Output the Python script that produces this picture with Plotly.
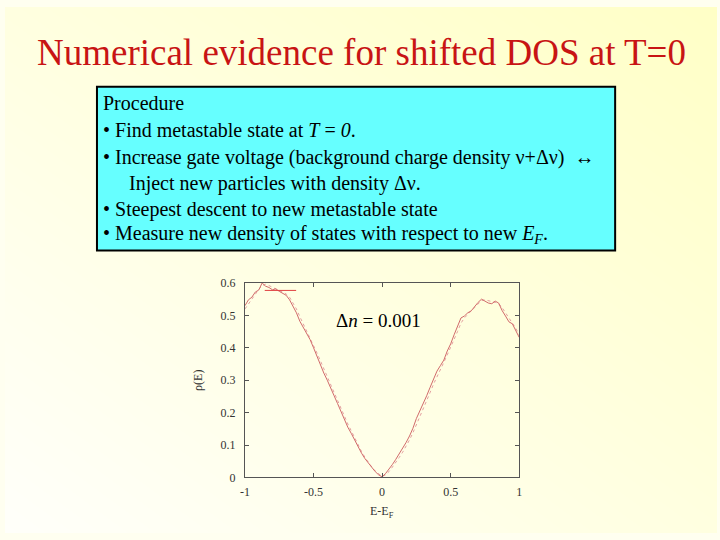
"""Densitat d'estats desplaçada a T=0: diapositiva amb quadre de procediment i gràfic rho(E)."""

import plotly.graph_objects as go

# Eix d'energia E-E_F (mostreig cada 0.025)
energy = [
    -1.000, -0.975, -0.950, -0.925, -0.900, -0.875, -0.850, -0.825, -0.800, -0.775,
    -0.750, -0.725, -0.700, -0.675, -0.650, -0.625, -0.600, -0.575, -0.550, -0.525,
    -0.500, -0.475, -0.450, -0.425, -0.400, -0.375, -0.350, -0.325, -0.300, -0.275,
    -0.250, -0.225, -0.200, -0.175, -0.150, -0.125, -0.100, -0.075, -0.050, -0.025,
    0.000, 0.025, 0.050, 0.075, 0.100, 0.125, 0.150, 0.175, 0.200, 0.225,
    0.250, 0.275, 0.300, 0.325, 0.350, 0.375, 0.400, 0.425, 0.450, 0.475,
    0.500, 0.525, 0.550, 0.575, 0.600, 0.625, 0.650, 0.675, 0.700, 0.725,
    0.750, 0.775, 0.800, 0.825, 0.850, 0.875, 0.900, 0.925, 0.950, 0.975,
    1.000,
]

# DOS després d'injectar partícules (línia contínua)
rho_new = [
    0.530, 0.548, 0.556, 0.572, 0.578, 0.600, 0.590, 0.586, 0.579, 0.582,
    0.574, 0.568, 0.562, 0.548, 0.530, 0.508, 0.482, 0.462, 0.442, 0.425,
    0.400, 0.372, 0.350, 0.322, 0.300, 0.278, 0.252, 0.228, 0.202, 0.180,
    0.155, 0.136, 0.115, 0.094, 0.075, 0.058, 0.044, 0.030, 0.018, 0.008,
    0.002, 0.012, 0.025, 0.040, 0.056, 0.072, 0.088, 0.108, 0.128, 0.152,
    0.182, 0.205, 0.226, 0.252, 0.278, 0.305, 0.328, 0.345, 0.362, 0.390,
    0.412, 0.440, 0.466, 0.492, 0.498, 0.508, 0.514, 0.528, 0.540, 0.550,
    0.544, 0.538, 0.536, 0.544, 0.538, 0.515, 0.498, 0.480, 0.474, 0.452,
    0.432,
]

# DOS de referència (línia puntejada)
rho_ref = [
    0.520, 0.535, 0.552, 0.566, 0.580, 0.592, 0.596, 0.592, 0.586, 0.580,
    0.576, 0.572, 0.566, 0.556, 0.540, 0.520, 0.496, 0.474, 0.452, 0.432,
    0.410, 0.384, 0.360, 0.334, 0.310, 0.286, 0.262, 0.238, 0.212, 0.188,
    0.165, 0.144, 0.122, 0.100, 0.080, 0.062, 0.046, 0.032, 0.020, 0.010,
    0.003, 0.008, 0.018, 0.032, 0.046, 0.062, 0.078, 0.096, 0.116, 0.138,
    0.162, 0.188, 0.212, 0.238, 0.262, 0.288, 0.312, 0.336, 0.355, 0.378,
    0.400, 0.426, 0.450, 0.476, 0.492, 0.504, 0.514, 0.524, 0.536, 0.546,
    0.548, 0.546, 0.542, 0.540, 0.536, 0.524, 0.508, 0.490, 0.476, 0.460,
    0.440,
]

# Mostra de la llegenda de gnuplot (segment horitzontal)
key_x = [-0.856, -0.627]
key_y = [0.577, 0.577]

x_ticks = [-1, -0.5, 0, 0.5, 1]
x_tick_labels = ["-1", "-0.5", "0", "0.5", "1"]
y_ticks = [0, 0.1, 0.2, 0.3, 0.4, 0.5, 0.6]
y_tick_labels = ["0", "0.1", "0.2", "0.3", "0.4", "0.5", "0.6"]

procedure_lines = [
    "Procedure",
    "• Find metastable state at <i>T</i> = <i>0</i>.",
    "• Increase gate voltage (background charge density ν+Δν)  ↔",
    "Inject new particles with density Δν.",
    "• Steepest descent to new metastable state",
    "• Measure new density of states with respect to new <i>E<sub>F</sub></i>.",
]
line_px_y = [99, 126, 154, 181, 208, 234]
line_px_x = [97, 97, 97, 123, 97, 97]

W, H = 720, 540
SERIF = "Liberation Serif"

fig = go.Figure()

# Fons degradat de la diapositiva (blanc a baix-esquerra, groc a dalt-dreta)
fig.add_trace(go.Heatmap(
    z=[[0.0, 0.5], [0.5, 1.0]], x=[0, 1], y=[0, 1],
    colorscale=[[0, "#FFFFFA"], [1, "#FFFFC6"]],
    zsmooth="best", showscale=False, hoverinfo="skip",
    xaxis="x", yaxis="y",
))

fig.add_trace(go.Scatter(
    x=energy, y=rho_ref, mode="lines",
    line=dict(color="#E3A0A0", width=1, dash="dot"),
    xaxis="x2", yaxis="y2", showlegend=False,
))
fig.add_trace(go.Scatter(
    x=energy, y=rho_new, mode="lines",
    line=dict(color="#D06A6A", width=1),
    xaxis="x2", yaxis="y2", showlegend=False,
))
fig.add_trace(go.Scatter(
    x=key_x, y=key_y, mode="lines",
    line=dict(color="#E04040", width=1),
    xaxis="x2", yaxis="y2", showlegend=False,
))

axis_common = dict(
    showline=True, linecolor="#555555", linewidth=1, mirror="allticks",
    ticks="inside", ticklen=4, tickcolor="#555555", showgrid=False, zeroline=False,
    tickfont=dict(family=SERIF, size=12, color="#333333"),
)

fig.update_layout(
    width=W, height=H,
    margin=dict(l=0, r=0, t=0, b=0),
    paper_bgcolor="#FFFFF0",
    plot_bgcolor="rgba(0,0,0,0)",
    showlegend=False,
    xaxis=dict(domain=[0, 1], range=[0, 1], visible=False, fixedrange=True),
    yaxis=dict(domain=[0, 1], range=[0, 1], visible=False, fixedrange=True),
    xaxis2=dict(
        domain=[242.7 / W, 520 / W], range=[-1, 1], anchor="y2",
        tickvals=x_ticks, ticktext=x_tick_labels, ticklabelstandoff=3,
        **axis_common,
    ),
    yaxis2=dict(
        domain=[1 - 483 / H, 1 - 283.3 / H], range=[0, 0.6], anchor="x2",
        tickvals=y_ticks, ticktext=y_tick_labels, ticklabelstandoff=6,
        **axis_common,
    ),
)

# Quadre cian del procediment
fig.add_shape(
    type="rect", xref="paper", yref="paper",
    x0=93 / W, x1=617 / W, y0=1 - 250 / H, y1=1 - 82 / H,
    fillcolor="#66FFFF", line=dict(color="black", width=2),
)

fig.add_annotation(
    text="Numerical evidence for shifted DOS at T=0",
    xref="paper", yref="paper", x=0.5, y=1 - 47 / H,
    xanchor="center", yanchor="middle", showarrow=False,
    font=dict(family=SERIF, size=37, color="#C81414"),
)

for txt, px, py in zip(procedure_lines, line_px_x, line_px_y):
    fig.add_annotation(
        text=txt, xref="paper", yref="paper", x=px / W, y=1 - py / H,
        xanchor="left", yanchor="middle", showarrow=False,
        font=dict(family=SERIF, size=20, color="black"),
    )

fig.add_annotation(
    text="Δ<i>n</i> = 0.001", xref="paper", yref="paper",
    x=378 / W, y=1 - 322 / H, xanchor="center", yanchor="middle", showarrow=False,
    font=dict(family=SERIF, size=19, color="black"),
)
fig.add_annotation(
    text="ρ(E)", xref="paper", yref="paper", x=195 / W, y=1 - 383 / H,
    xanchor="center", yanchor="middle", showarrow=False, textangle=-90,
    font=dict(family=SERIF, size=12, color="#333333"),
)
fig.add_annotation(
    text="E-E<sub>F</sub>", xref="paper", yref="paper", x=381 / W, y=1 - 518 / H,
    xanchor="center", yanchor="middle", showarrow=False,
    font=dict(family=SERIF, size=12, color="#333333"),
)

# Sense el marge per defecte del navegador ni la barra d'eines
fig.write_html(
    "out.html",
    config={"displayModeBar": False},
    post_script="document.body.style.margin='0';",
)
